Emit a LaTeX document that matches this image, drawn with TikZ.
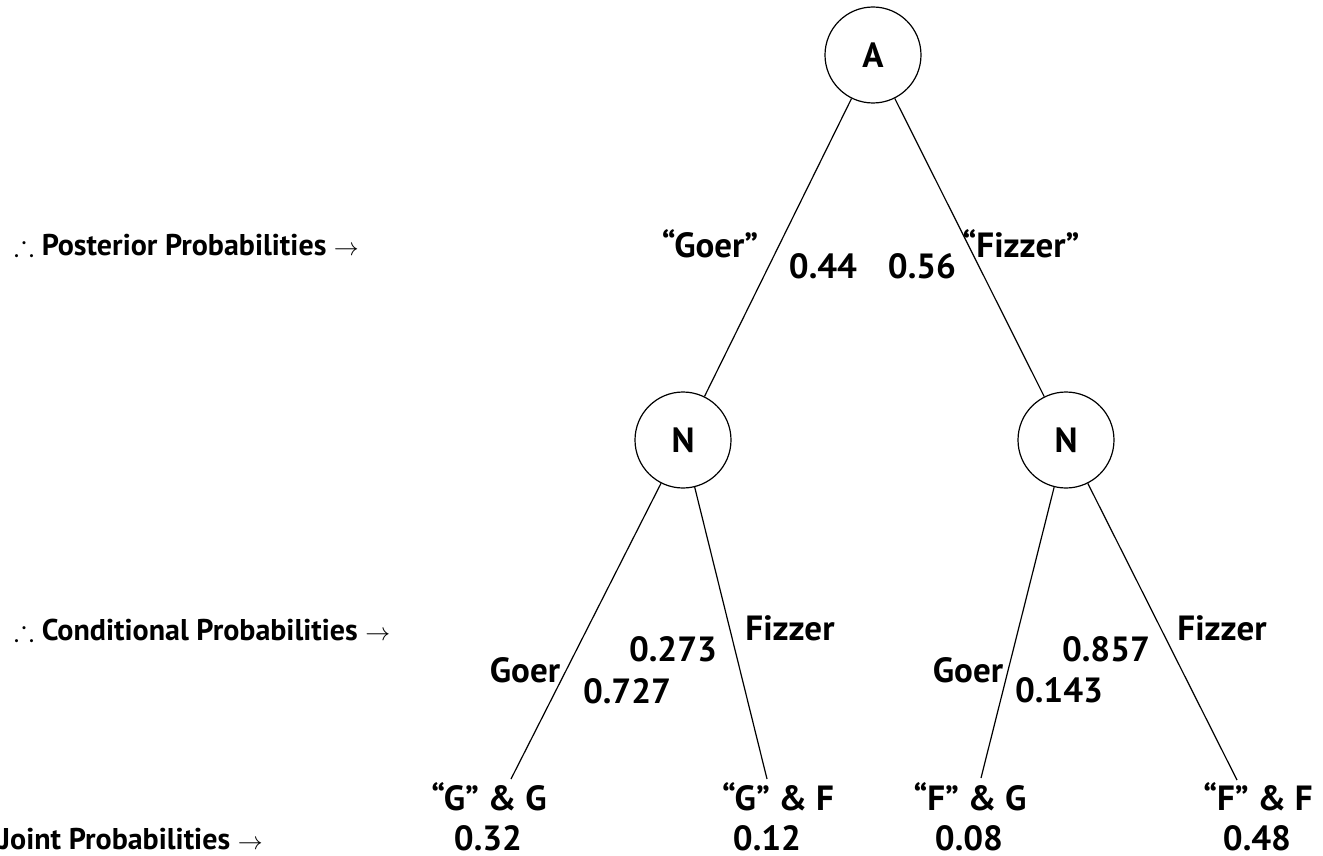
\documentclass[tikz,border=0pt]{standalone}
\usepackage{amssymb}
\usepackage{fontspec}
\setmainfont{PT Sans}
\begin{document}
\begin{tikzpicture}[x=1pt,y=-1pt,
  state/.style={draw,circle,minimum size=96pt,inner sep=0pt,line width=1.2pt,font=\fontsize{35}{40}\selectfont\bfseries},
  lbl/.style={inner sep=0pt,anchor=base,font=\fontsize{35}{40}\selectfont\bfseries},
  side/.style={inner sep=0pt,anchor=base west,font=\fontsize{30}{34}\selectfont\bfseries},
  branch/.style={line width=1.2pt}]
\useasboundingbox (0,0) rectangle (1323,856);
% decision nodes
\node[state] (A) at (873,55) {A};
\node[state] (NL) at (683,440) {N};
\node[state] (NR) at (1066,440) {N};
% leaf end points
\coordinate (LGG) at (511,779);
\coordinate (LGF) at (767,779);
\coordinate (LFG) at (981,778);
\coordinate (LFF) at (1237,780);
% branches
\draw[branch] (A) -- (NL);
\draw[branch] (A) -- (NR);
\draw[branch] (NL) -- (LGG);
\draw[branch] (NL) -- (LGF);
\draw[branch] (NR) -- (LFG);
\draw[branch] (NR) -- (LFF);
% branch labels
\node[lbl] (gq) at (710,257) {“Goer”};
\node[lbl] (p44) at (823,278) {0.44};
\node[lbl] (p56) at (922,278) {0.56};
\node[lbl] (fq) at (1021,257) {“Fizzer”};
\node[lbl] (g1) at (525,682) {Goer};
\node[lbl] (p727) at (627,703) {0.727};
\node[lbl] (p273) at (673,661) {0.273};
\node[lbl] (f1) at (790,640) {Fizzer};
\node[lbl] (g2) at (968,682) {Goer};
\node[lbl] (p143) at (1059,702) {0.143};
\node[lbl] (p857) at (1106,661) {0.857};
\node[lbl] (f2) at (1222,640) {Fizzer};
% outcomes
\node[lbl] (oGG) at (489,810) {“G” \& G};
\node[lbl] (vGG) at (488,850) {0.32};
\node[lbl] (oGF) at (778,810) {“G” \& F};
\node[lbl] (vGF) at (767,850) {0.12};
\node[lbl] (oFG) at (970,810) {“F” \& G};
\node[lbl] (vFG) at (969,850) {0.08};
\node[lbl] (oFF) at (1258,810) {“F” \& F};
\node[lbl] (vFF) at (1257,850) {0.48};
% row captions
\node[side] (post) at (14,255) {$\therefore$ Posterior Probabilities $\rightarrow$};
\node[side] (cond) at (14,640) {$\therefore$ Conditional Probabilities $\rightarrow$};
\node[side] (joint) at (0,849) {Joint Probabilities $\rightarrow$};
\end{tikzpicture}
\end{document}
